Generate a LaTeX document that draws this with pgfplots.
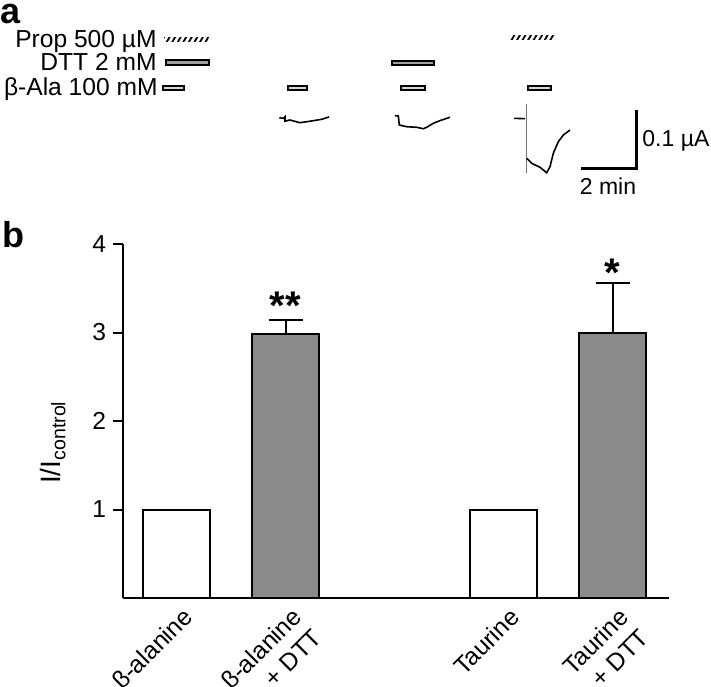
\documentclass[border=0pt]{standalone}
\usepackage{fontspec}
\setmainfont{Liberation Sans}
\usepackage{pgfplots}
\pgfplotsset{compat=1.18}
\usetikzlibrary{patterns.meta}
\definecolor{barGrey}{HTML}{8A8A8A}
\definecolor{appGrey}{HTML}{D8D8D8}
\definecolor{dttGrey}{HTML}{A0A0A0}
\newcommand{\lbl}{\fontsize{12.3}{14.5}\selectfont}
\newcommand{\sbl}{\fontsize{11.5}{13.5}\selectfont}
\begin{document}
\begin{tikzpicture}
\useasboundingbox (0,0) rectangle (355.5pt,-343pt);
% panel a: drawn in reference pixel units
\begin{axis}[
    at={(0pt,0pt)}, anchor=north west,
    width=355.5pt, height=343pt, scale only axis,
    xmin=0, xmax=711, ymin=0, ymax=686, y dir=reverse,
    hide axis, clip=false,
]
% application bars, key
\addplot[draw=none, pattern={Lines[angle=60, distance=2.4pt, line width=0.9pt]}]
    coordinates {(164,37) (209,37) (209,41) (164,41)} -- cycle;
\addplot[draw=black, fill=dttGrey, line width=0.6pt]
    coordinates {(166,60) (209,60) (209,65) (166,65)} -- cycle;
\addplot[draw=black, fill=appGrey, line width=0.6pt]
    coordinates {(163,86) (184,86) (184,90) (163,90)} -- cycle;
% application bars, recordings
\addplot[draw=black, fill=appGrey, line width=0.6pt]
    coordinates {(288,86) (307,86) (307,90) (288,90)} -- cycle;
\addplot[draw=black, fill=dttGrey, line width=0.6pt]
    coordinates {(392,61) (434,61) (434,65) (392,65)} -- cycle;
\addplot[draw=black, fill=appGrey, line width=0.6pt]
    coordinates {(401,86) (425,86) (425,90) (401,90)} -- cycle;
\addplot[draw=none, pattern={Lines[angle=60, distance=2.4pt, line width=0.9pt]}]
    coordinates {(510,35) (555,35) (555,39) (510,39)} -- cycle;
\addplot[draw=black, fill=appGrey, line width=0.6pt]
    coordinates {(528,86) (551,86) (551,90) (528,90)} -- cycle;
% current traces
\addplot[black, line width=0.8pt] coordinates {
    (279.3,117.7) (283.3,118.3) (285,116.7) (285,121.2) (290,120) (300,122.7)
    (306.7,121.7) (313.3,120.7) (321.7,119.3) (329,117)};
\addplot[black, line width=0.8pt] coordinates {
    (395,115.7) (398.3,116) (399.3,125) (406.7,126.7) (416.7,127.3) (423.3,128.7)
    (426.7,127.3) (433.3,123.3) (441.7,120) (450,117.3)};
\addplot[black!55, line width=0.4pt] coordinates {(526.7,104.3) (526.7,172.7)};
\addplot[black, line width=0.8pt] coordinates {(514,118.3) (525,118.7)};
\addplot[black, line width=0.8pt] coordinates {
    (526.7,158.3) (531.7,163.3) (540,167.3) (546.7,172.7) (550,166.7) (553.3,153.3)
    (558.3,141.7) (563.3,135) (570,130)};
% scale bars
\addplot[black, line width=1.5pt] coordinates {(581,168) (636,168) (636,110)};
\node[anchor=west, font=\sbl, inner sep=0pt] at (axis cs:642,141) {0.1 µA};
\node[anchor=north, font=\sbl, inner sep=0pt] at (axis cs:608,177) {2 min};
% labels
\node[anchor=base east, font=\lbl, inner sep=0pt] at (axis cs:157,47) {Prop 500 µM};
\node[anchor=base east, font=\lbl, inner sep=0pt] at (axis cs:157,70) {DTT 2 mM};
\node[anchor=base east, font=\lbl, inner sep=0pt] at (axis cs:158,95) {β-Ala 100 mM};
\node[anchor=base west, font=\bfseries\fontsize{18}{18}\selectfont, inner sep=0pt] at (axis cs:0,23) {a};
\node[anchor=base west, font=\bfseries\fontsize{18}{18}\selectfont, inner sep=0pt] at (axis cs:2,247) {b};
\end{axis}
% panel b
\begin{axis}[
    at={(61.5pt,-299pt)}, anchor=south west,
    width=273pt, height=177pt, scale only axis,
    xmin=-0.491, xmax=4.518, ymin=0, ymax=4,
    axis lines=left, axis line style={-, line width=1pt},
    ybar, bar width=33.5pt, bar shift=0pt, clip=false,
    ytick={1,2,3,4}, xtick={0,1,3,4},
    xticklabels={β-alanine, {β-alanine\\+ DTT}, Taurine, {Taurine\\+ DTT}},
    x tick style={draw=none},
    y tick style={line width=1pt, black},
    tick align=outside, major tick length=5pt,
    tick label style={font=\lbl},
    /pgf/number format/assume math mode=true,
    x tick label style={rotate=45, anchor=north east, align=right,
        inner sep=1pt, xshift=3.5pt},
    ylabel={I/I\textsubscript{control}},
    ylabel style={at={(axis description cs:-0.128,0.44)}, anchor=center,
        font=\fontsize{14}{16}\selectfont},
]
\addplot[fill=white, draw=black, line width=1pt] coordinates {(0,1) (3,1)};
\addplot[fill=barGrey, draw=black, line width=1pt,
    error bars/.cd, y dir=plus, y explicit,
    error bar style={line width=1pt, black},
    error mark options={rotate=90, mark size=8.5pt, line width=1pt, black}]
    coordinates {(1,2.98) +- (0,0.16) (4,3.00) +- (0,0.56)};
\node[font=\bfseries\fontsize{20}{20}\selectfont] at (axis cs:1,3.30) {**};
\node[font=\bfseries\fontsize{20}{20}\selectfont] at (axis cs:4,3.67) {*};
\end{axis}
\end{tikzpicture}
\end{document}
